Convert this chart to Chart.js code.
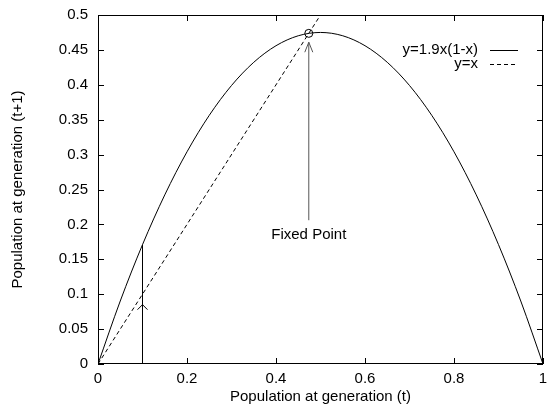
<!DOCTYPE html>
<html>
<head>
<meta charset="utf-8">
<script src="https://cdn.jsdelivr.net/npm/chart.js@4.4.0/dist/chart.umd.min.js"></script>
<style>
  html, body { margin: 0; padding: 0; background: #fff; }
</style>
</head>
<body>
<canvas id="chart" width="548" height="410"></canvas>
<script>
// ===========================
// DATA
// ===========================
const curveX = [0, 0.05, 0.1, 0.15, 0.2, 0.25, 0.3, 0.35, 0.4, 0.45, 0.5, 0.55, 0.6, 0.65, 0.7, 0.75, 0.8, 0.85, 0.9, 0.95, 1];
const curveY = [0, 0.09025, 0.171, 0.24225, 0.304, 0.35625, 0.399, 0.43225, 0.456, 0.47025, 0.475, 0.47025, 0.456, 0.43225, 0.399, 0.35625, 0.304, 0.24225, 0.171, 0.09025, 0];
const diagX = [0, 0.5];
const diagY = [0, 0.5];
const stepX = [0.1, 0.1];
const stepY = [0, 0.171];
const stepHeadY = 0.085;
const fixedX = [0.4737];
const fixedY = [0.4737];
const arrowX = [0.4737, 0.4737];
const arrowY = [0.206, 0.461];
const xTicks = ['0', '0.2', '0.4', '0.6', '0.8', '1'];
const yTicks = ['0', '0.05', '0.1', '0.15', '0.2', '0.25', '0.3', '0.35', '0.4', '0.45', '0.5'];
const seriesNames = ['y=1.9x(1-x)', 'y=x'];

const FONT = 'Liberation Sans, Arial, Helvetica, sans-serif';
const pts = (xs, ys) => xs.map((x, i) => ({ x: x, y: ys[i] }));

// ===========================
// GNUPLOT STYLE FRAME / TICKS / LEGEND / ARROWS
// ===========================
const decor = {
  id: 'decor',
  afterDatasetsDraw(chart) {
    const { ctx, chartArea: a, scales } = chart;
    const sx = scales.x, sy = scales.y;
    ctx.save();
    ctx.strokeStyle = '#000';
    ctx.lineWidth = 1;
    // frame
    ctx.strokeRect(a.left + 0.5, a.top + 0.5, a.right - a.left - 1, a.bottom - a.top - 1);
    // ticks inside, mirrored
    const tl = 6;
    ctx.beginPath();
    xTicks.forEach(t => {
      const px = Math.round(sx.getPixelForValue(+t)) + 0.5;
      ctx.moveTo(px, a.bottom); ctx.lineTo(px, a.bottom - tl);
      ctx.moveTo(px, a.top); ctx.lineTo(px, a.top + tl);
    });
    yTicks.forEach(t => {
      const py = Math.round(sy.getPixelForValue(+t)) + 0.5;
      ctx.moveTo(a.left, py); ctx.lineTo(a.left + tl, py);
      ctx.moveTo(a.right, py); ctx.lineTo(a.right - tl, py);
    });
    ctx.stroke();

    // arrow heads
    const head = (x, y, w, h) => {
      ctx.beginPath();
      ctx.moveTo(x - w, y + h); ctx.lineTo(x, y); ctx.lineTo(x + w, y + h);
      ctx.stroke();
    };
    ctx.strokeStyle = '#000';
    head(sx.getPixelForValue(stepX[0]), sy.getPixelForValue(stepHeadY), 5, 5);
    ctx.strokeStyle = '#555';
    head(sx.getPixelForValue(arrowX[1]), sy.getPixelForValue(arrowY[1]), 4, 10);

    // label
    ctx.fillStyle = '#000';
    ctx.font = '15px ' + FONT;
    ctx.textAlign = 'center';
    ctx.textBaseline = 'middle';
    ctx.fillText('Fixed Point', sx.getPixelForValue(arrowX[0]), 235);

    // legend
    ctx.textAlign = 'right';
    ctx.strokeStyle = '#000';
    const rows = [50, 64];
    seriesNames.forEach((name, i) => {
      ctx.fillText(name, 478, rows[i]);
      ctx.setLineDash(i === 1 ? [4, 3] : []);
      ctx.beginPath();
      ctx.moveTo(490, rows[i] + 0.5); ctx.lineTo(518, rows[i] + 0.5);
      ctx.stroke();
    });
    ctx.restore();
  }
};

// ===========================
// CHART
// ===========================
new Chart(document.getElementById('chart').getContext('2d'), {
  type: 'scatter',
  data: {
    datasets: [
      { data: pts(curveX, curveY), showLine: true, borderColor: '#000', borderWidth: 1, pointRadius: 0, cubicInterpolationMode: 'monotone' },
      { data: pts(diagX, diagY), showLine: true, borderColor: '#000', borderWidth: 1, borderDash: [4, 3], pointRadius: 0 },
      { data: pts(stepX, stepY), showLine: true, borderColor: '#000', borderWidth: 1, pointRadius: 0 },
      { data: pts(arrowX, arrowY), showLine: true, borderColor: '#555', borderWidth: 1, pointRadius: 0 },
      { data: pts(fixedX, fixedY), showLine: false, borderColor: '#000', borderWidth: 1, backgroundColor: 'rgba(0,0,0,0)', pointRadius: 4 }
    ]
  },
  options: {
    responsive: false,
    animation: false,
    devicePixelRatio: 1,
    layout: { padding: { top: 15, right: 2, left: 0, bottom: 0 } },
    plugins: { legend: { display: false }, tooltip: { enabled: false } },
    scales: {
      x: {
        type: 'linear', min: 0, max: 1,
        afterFit: s => { s.height = 46; s.paddingLeft = 0; s.paddingRight = 0; },
        grid: { display: false, drawTicks: false },
        border: { display: false },
        ticks: { stepSize: 0.2, padding: 6, color: '#000', font: { family: FONT, size: 15 },
          callback: (v) => xTicks.find(t => Math.abs(+t - v) < 1e-6) },
        title: { display: true, text: 'Population at generation (t)', color: '#000', font: { family: FONT, size: 15 }, padding: { bottom: 4, top: 0 } }
      },
      y: {
        type: 'linear', min: 0, max: 0.5,
        afterFit: s => { s.width = 98; s.paddingTop = 0; s.paddingBottom = 0; },
        grid: { display: false, drawTicks: false },
        border: { display: false },
        ticks: { stepSize: 0.05, padding: 10, color: '#000', font: { family: FONT, size: 15 },
          callback: (v) => yTicks.find(t => Math.abs(+t - v) < 1e-6) },
        title: { display: true, text: 'Population at generation (t+1)', color: '#000', font: { family: FONT, size: 15 }, padding: { top: 9, bottom: 0 } }
      }
    }
  },
  plugins: [decor]
});
</script>
</body>
</html>
